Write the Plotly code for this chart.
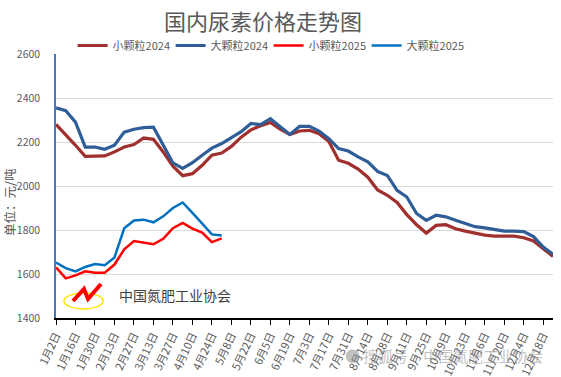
import plotly.graph_objects as go

dates = ["1月2日", "1月9日", "1月16日", "1月23日", "1月30日",
         "2月6日", "2月13日", "2月20日", "2月27日",
         "3月6日", "3月13日", "3月20日", "3月27日",
         "4月3日", "4月10日", "4月17日", "4月24日",
         "5月1日", "5月8日", "5月15日", "5月22日", "5月29日",
         "6月5日", "6月12日", "6月19日", "6月26日",
         "7月3日", "7月10日", "7月17日", "7月24日", "7月31日",
         "8月7日", "8月14日", "8月21日", "8月28日",
         "9月4日", "9月11日", "9月18日", "9月25日",
         "10月2日", "10月9日", "10月16日", "10月23日", "10月30日",
         "11月6日", "11月13日", "11月20日", "11月27日",
         "12月4日", "12月11日", "12月18日", "12月25日"]

tick_labels = dates[::2]

small_2024 = [2280, 2235, 2185, 2135, 2135, 2137, 2155, 2177, 2188, 2218, 2212, 2155, 2090,
              2047, 2056, 2094, 2140, 2150, 2180, 2222, 2255, 2274, 2289, 2258, 2234, 2250,
              2253, 2238, 2202, 2117, 2103, 2077, 2040, 1982, 1958, 1925, 1870, 1824, 1786,
              1821, 1824, 1806, 1795, 1785, 1777, 1772, 1772, 1772, 1765, 1750, 1715, 1680]

big_2024 = [2355, 2342, 2290, 2177, 2177, 2167, 2185, 2245, 2258, 2265, 2267, 2185, 2105,
            2080, 2106, 2140, 2172, 2193, 2218, 2247, 2284, 2279, 2306, 2268, 2234, 2271,
            2271, 2250, 2215, 2170, 2159, 2132, 2110, 2066, 2048, 1980, 1950, 1875, 1844,
            1867, 1860, 1844, 1828, 1815, 1810, 1803, 1795, 1795, 1793, 1770, 1722, 1690]

small_2025 = [1630, 1580, 1594, 1612, 1606, 1606, 1643, 1712, 1750, 1743, 1735, 1760, 1808,
              1832, 1806, 1788, 1745, 1762]

big_2025 = [1652, 1627, 1612, 1632, 1645, 1640, 1675, 1808, 1843, 1847, 1835, 1862, 1900,
            1925, 1878, 1828, 1780, 1775]

series_names = ["小颗粒2024", "大颗粒2024", "小颗粒2025", "大颗粒2025"]

FONT = "Noto Sans CJK SC"
GREY = "#595959"

fig = go.Figure()
fig.add_trace(go.Scatter(x=dates, y=small_2024, name=series_names[0], mode="lines",
                         line=dict(color="#A0302E", width=3.2)))
fig.add_trace(go.Scatter(x=dates, y=big_2024, name=series_names[1], mode="lines",
                         line=dict(color="#2F5D97", width=3.2)))
fig.add_trace(go.Scatter(x=dates[:len(small_2025)], y=small_2025, name=series_names[2], mode="lines",
                         line=dict(color="#FF0000", width=2.5)))
fig.add_trace(go.Scatter(x=dates[:len(big_2025)], y=big_2025, name=series_names[3], mode="lines",
                         line=dict(color="#0070C0", width=2.5)))

# plot area in pixels: x 56..553, y 54..318
def px(x):
    return (x - 56) / 497.0

def py(y):
    return (318 - y) / 264.0

fig.update_layout(
    width=561, height=377,
    margin=dict(l=56, r=8, t=54, b=59, autoexpand=False),
    paper_bgcolor="white", plot_bgcolor="white",
    font=dict(family=FONT, color=GREY, size=12),
    title=dict(text="国内尿素价格走势图", x=263 / 561, xanchor="center", y=1 - 22 / 377, yanchor="middle",
               font=dict(family=FONT, size=22, color=GREY)),
    legend=dict(orientation="h", x=240 / 561, xanchor="center", y=1 - 45.5 / 377, yref="container",
                yanchor="middle", font=dict(family=FONT, size=11, color=GREY),
                bgcolor="rgba(0,0,0,0)", itemwidth=30, traceorder="normal", entrywidth=53),
    showlegend=True,
)

fig.update_xaxes(
    type="category", categoryorder="array", categoryarray=dates,
    range=[0, len(dates) - 1],
    tickmode="array", tickvals=tick_labels, ticktext=tick_labels,
    tickangle=-65, tickfont=dict(family=FONT, size=11, color=GREY),
    showline=True, linecolor="#000000", linewidth=1.5,
    ticks="outside", ticklen=5, tickcolor="#000000", tickwidth=1,
    showgrid=False, zeroline=False,
)
fig.update_yaxes(
    range=[1400, 2600], tickmode="array", tickvals=[1400, 1600, 1800, 2000, 2200, 2400, 2600],
    tickfont=dict(family=FONT, size=10.5, color=GREY),
    showline=True, linecolor="#4A76B5", linewidth=1.5,
    showgrid=True, gridcolor="#D9D9D9", gridwidth=1.2,
    zeroline=False, ticks="", ticklabelstandoff=12,
)

# y-axis title
fig.add_annotation(text="单位：元/吨", textangle=-90, xref="paper", yref="paper",
                   x=px(9), y=py(202), xanchor="center", yanchor="middle", showarrow=False,
                   font=dict(family=FONT, size=12.5, color=GREY))

# association logo
fig.add_shape(type="circle", xref="paper", yref="paper",
              x0=px(64), x1=px(103), y0=py(309), y1=py(293),
              line=dict(color="#FFE500", width=1.5), fillcolor="rgba(0,0,0,0)")
fig.add_shape(type="path", xref="paper", yref="paper",
              path=f"M {px(73)},{py(301)} L {px(84)},{py(289)} L {px(88)},{py(299)} L {px(101)},{py(284)}",
              line=dict(color="#FF0000", width=4))
fig.add_annotation(text="中国氮肥工业协会", xref="paper", yref="paper",
                   x=px(117), y=py(295), xanchor="left", yanchor="middle", showarrow=False,
                   font=dict(family=FONT, size=14, color="#404040"))

# watermark
fig.add_annotation(text="● 搜狐号·中国氮肥工业协会", xref="paper", yref="paper",
                   x=px(545), y=py(355), xanchor="right", yanchor="middle", showarrow=False,
                   font=dict(family=FONT, size=15, color="rgba(140,140,140,0.55)"))

fig.write_html("out.html", config={"displayModeBar": False},
               post_script="document.body.style.margin='0';")
